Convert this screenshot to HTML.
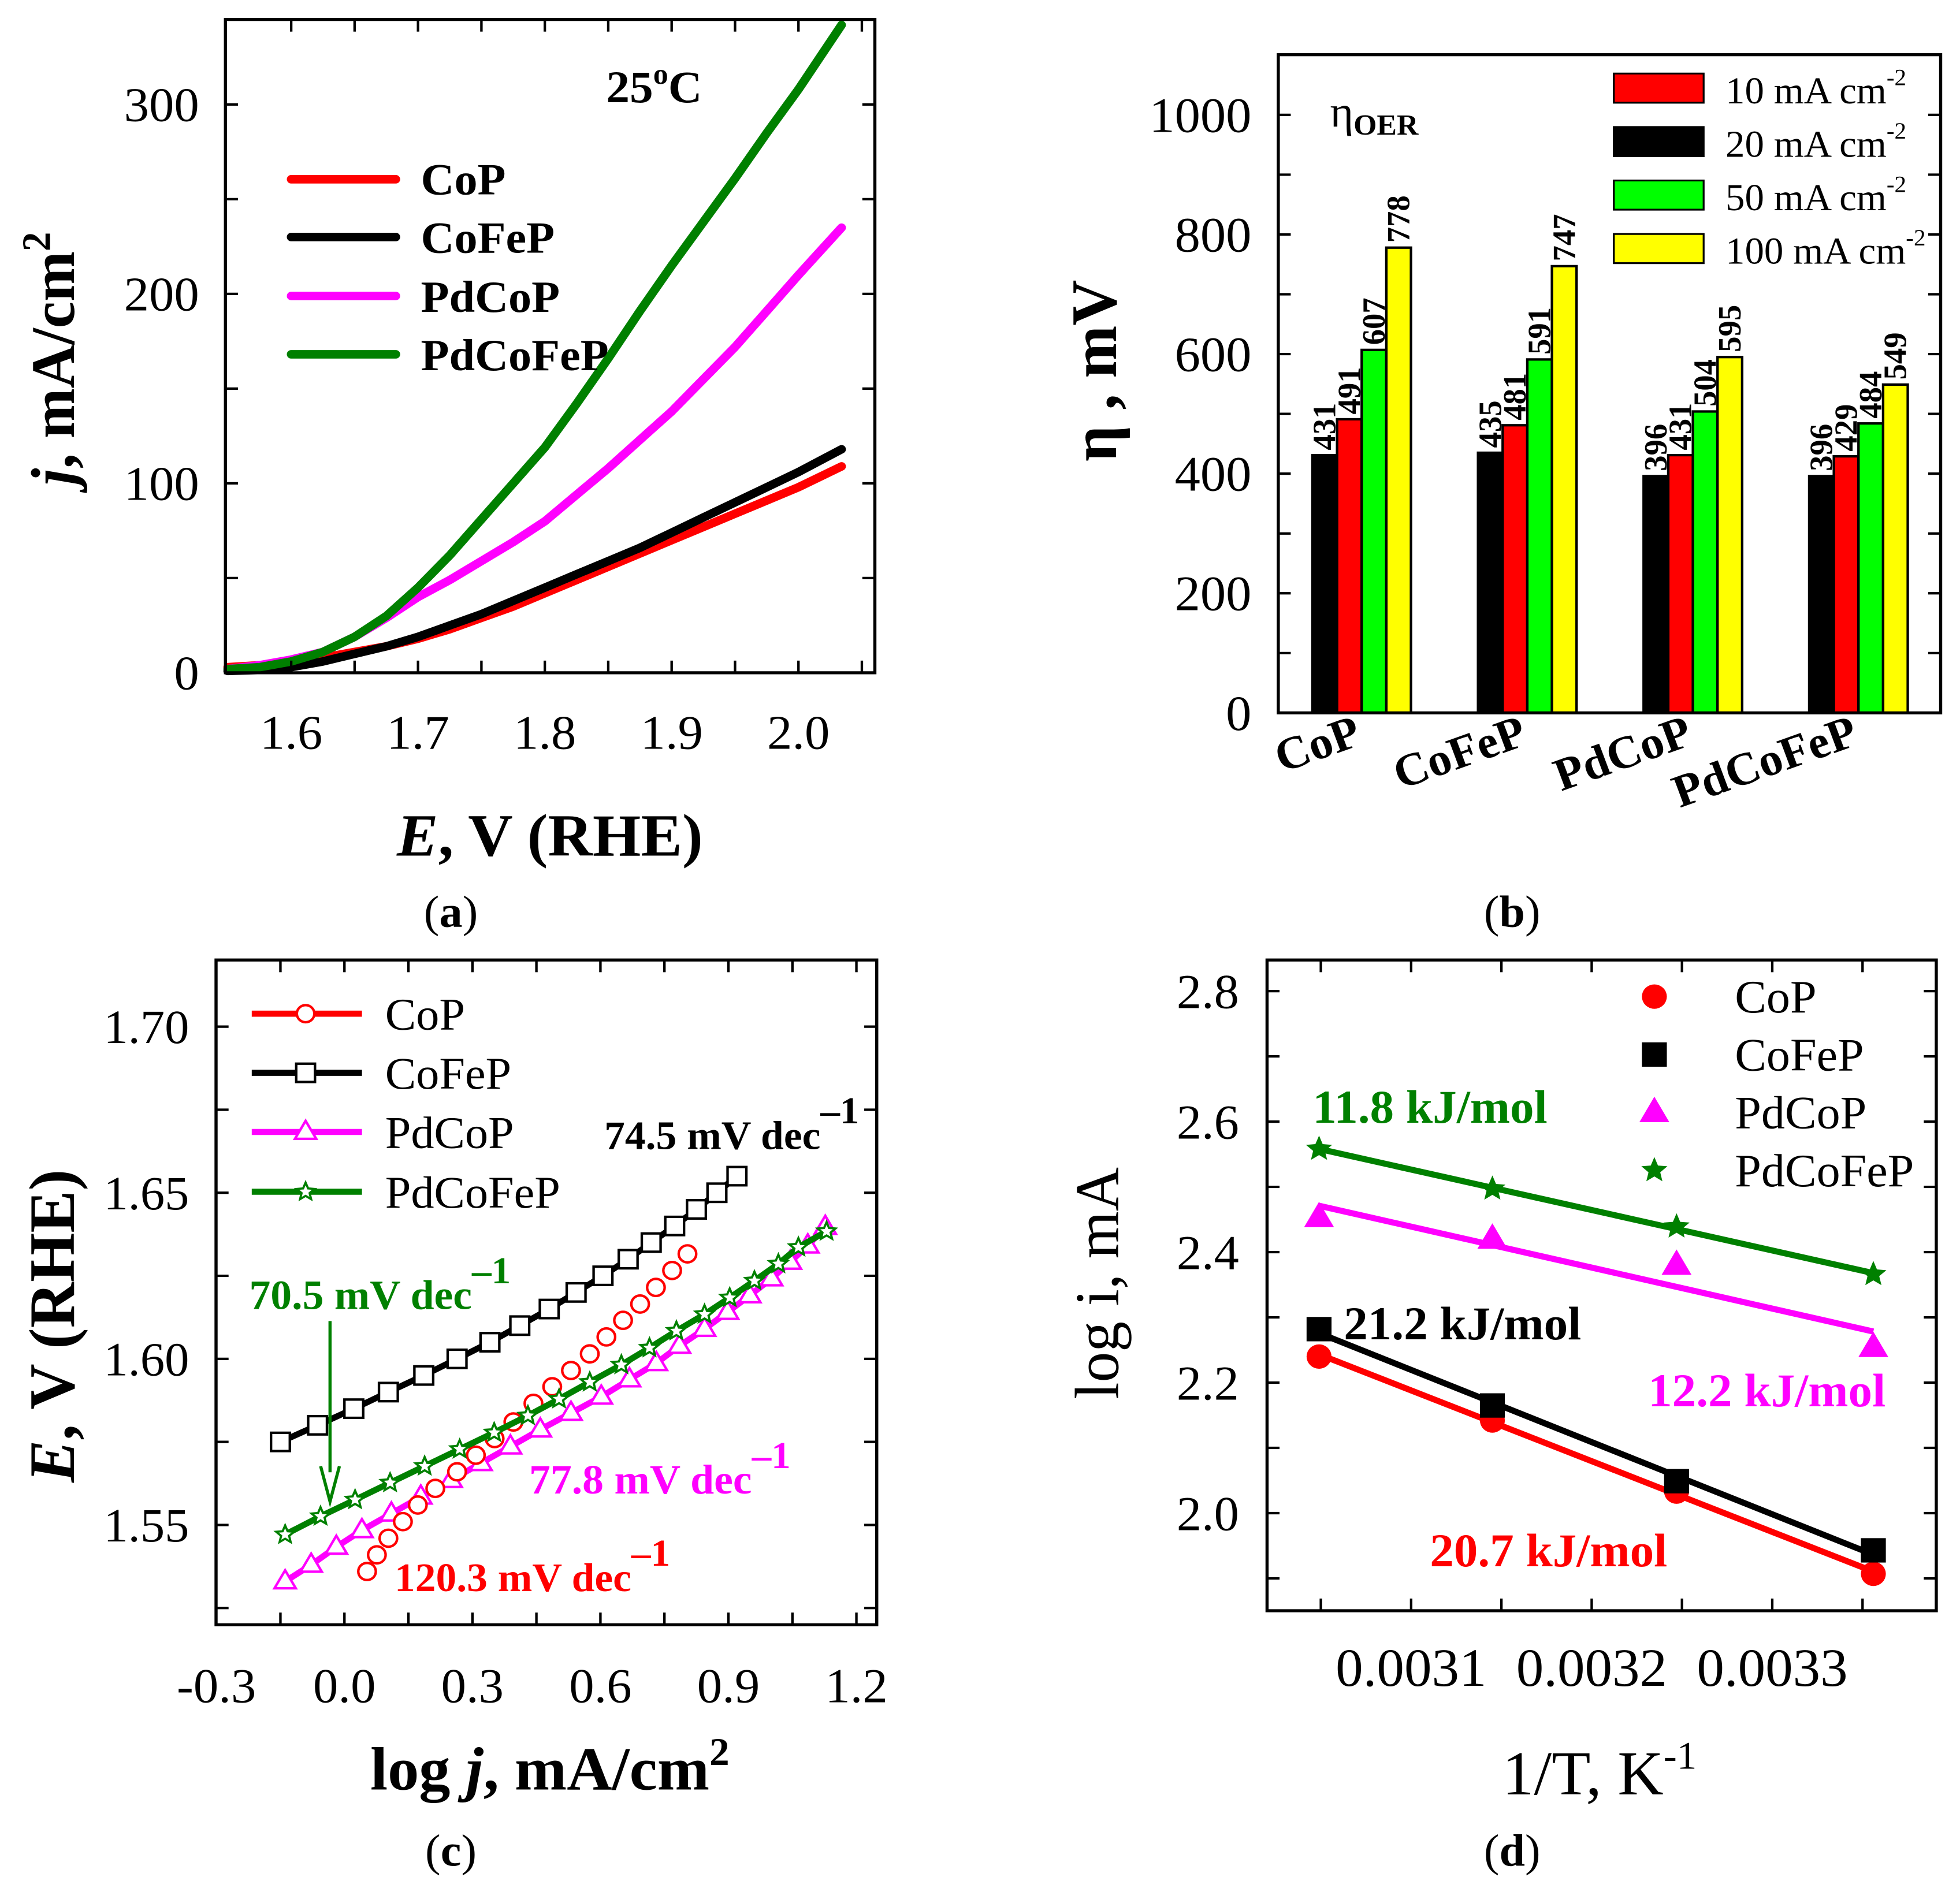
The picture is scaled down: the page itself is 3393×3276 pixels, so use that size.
<!DOCTYPE html>
<html>
<head>
<meta charset="utf-8">
<style>
html,body{margin:0;padding:0;background:#fff;}
svg{display:block;}
svg, svg text{font-family:"Liberation Serif","Times New Roman",serif;}
.b{font-weight:bold;}
</style>
</head>
<body>
<svg id="fig" xmlns="http://www.w3.org/2000/svg" width="3393" height="3276" viewBox="0 0 3393 3276" font-family="Liberation Serif, serif">
<rect x="0" y="0" width="3393" height="3276" fill="#fff"/>

<!-- Panel a -->
<g id="pa" transform="translate(0,0) scale(1.0841,1.0523)">
  <g id="pa-marks"></g>
  <g id="pa-axes"></g>
  <text x="968" y="168" font-size="75" class="b">25<tspan font-size="48" dy="-30">o</tspan><tspan dy="30">C</tspan></text>
  <g>
    <line x1="465" y1="295" x2="632" y2="295" stroke="#ff0000" stroke-width="14" stroke-linecap="round"/>
    <text x="672" y="320" font-size="74" class="b">CoP</text>
    <line x1="465" y1="390" x2="632" y2="390" stroke="#000" stroke-width="14" stroke-linecap="round"/>
    <text x="672" y="416" font-size="74" class="b">CoFeP</text>
    <line x1="465" y1="487" x2="632" y2="487" stroke="#ff00ff" stroke-width="14" stroke-linecap="round"/>
    <text x="672" y="513" font-size="74" class="b">PdCoP</text>
    <line x1="465" y1="583" x2="632" y2="583" stroke="#008000" stroke-width="14" stroke-linecap="round"/>
    <text x="672" y="609" font-size="74" class="b">PdCoFeP</text>
  </g>
  <text x="878" y="1408" font-size="99" class="b" text-anchor="middle"><tspan font-style="italic">E</tspan>, V (RHE)</text>
  <text transform="translate(118,590) rotate(-90)" font-size="99" class="b" text-anchor="middle"><tspan font-style="italic">j</tspan>, mA/cm<tspan font-size="64" dy="-38">2</tspan></text>
  <text x="720" y="1525" font-size="74" text-anchor="middle">(<tspan class="b">a</tspan>)</text>
</g>

<!-- Panel b -->
<g id="pb" transform="translate(1700,0) scale(1.0797,1.0523)">
  <g id="pb-marks"></g>
  <g id="pb-axes"></g>
  <text x="558" y="208" font-size="72">η<tspan font-size="48" class="b" dy="14">OER</tspan></text>
  <g>
    <rect x="1013" y="121" width="144" height="48" fill="#ff0000" stroke="#000" stroke-width="3"/>
    <text x="1192" y="170" font-size="62">10 mA cm<tspan font-size="38" dy="-30">-2</tspan></text>
    <rect x="1013" y="209" width="144" height="48" fill="#000" stroke="#000" stroke-width="3"/>
    <text x="1192" y="258" font-size="62">20 mA cm<tspan font-size="38" dy="-30">-2</tspan></text>
    <rect x="1013" y="297" width="144" height="48" fill="#00ff00" stroke="#000" stroke-width="3"/>
    <text x="1192" y="346" font-size="62">50 mA cm<tspan font-size="38" dy="-30">-2</tspan></text>
    <rect x="1013" y="385" width="144" height="48" fill="#ffff00" stroke="#000" stroke-width="3"/>
    <text x="1192" y="434" font-size="62">100 mA cm<tspan font-size="38" dy="-30">-2</tspan></text>
  </g>
  <text transform="translate(215,610) rotate(-90)" font-size="104" class="b" text-anchor="middle">η , mV</text>
  <text x="850" y="1525" font-size="74" text-anchor="middle">(<tspan class="b">b</tspan>)</text>
</g>

<!-- Panel c -->
<g id="pc" transform="translate(0,1620) scale(1.0841,1.0560)">
  <g id="pc-marks"></g>
  <g id="pc-axes"></g>
  <g id="pc-legend">
    <text x="615" y="154" font-size="74">CoP</text>
    <text x="615" y="251" font-size="74">CoFeP</text>
    <text x="615" y="348" font-size="74">PdCoP</text>
    <text x="615" y="446" font-size="74">PdCoFeP</text>
  </g>
  <text x="965" y="350" font-size="66" class="b" fill="#000">74.5 mV dec<tspan font-size="62" dy="-42">–1</tspan></text>
  <text x="398" y="612" font-size="68" class="b" fill="#008000">70.5 mV dec<tspan font-size="62" dy="-42">–1</tspan></text>
  <line x1="527" y1="632" x2="527" y2="880" stroke="#008000" stroke-width="5"/>
  <polyline points="512,870 527,928 542,870" fill="none" stroke="#008000" stroke-width="5"/>
  <text x="845" y="915" font-size="68" class="b" fill="#ff00ff">77.8 mV dec<tspan font-size="62" dy="-42">–1</tspan></text>
  <text x="630" y="1075" font-size="66" class="b" fill="#ff0000">120.3 mV dec<tspan font-size="62" dy="-42">–1</tspan></text>
  <text x="878" y="1400" font-size="100" class="b" text-anchor="middle">log <tspan font-style="italic">j</tspan>, mA/cm<tspan font-size="64" dy="-40">2</tspan></text>
  <text transform="translate(118,640) rotate(-90)" font-size="104" class="b" text-anchor="middle"><tspan font-style="italic">E</tspan>, V (RHE)</text>
  <text x="720" y="1525" font-size="74" text-anchor="middle">(<tspan class="b">c</tspan>)</text>
</g>

<!-- Panel d -->
<g id="pd" transform="translate(1700,1620) scale(1.0797,1.0560)">
  <g id="pd-marks"></g>
  <g id="pd-axes"></g>
  <g id="pd-legend">
    <text x="1207" y="126" font-size="76">CoP</text>
    <text x="1207" y="221" font-size="76">CoFeP</text>
    <text x="1207" y="316" font-size="76">PdCoP</text>
    <text x="1207" y="411" font-size="76">PdCoFeP</text>
  </g>
  <text x="530" y="307" font-size="77" class="b" fill="#008000">11.8 kJ/mol</text>
  <text x="580" y="662" font-size="77" class="b" fill="#000">21.2 kJ/mol</text>
  <text x="1068" y="772" font-size="77" class="b" fill="#ff00ff">12.2 kJ/mol</text>
  <text x="718" y="1034" font-size="77" class="b" fill="#ff0000">20.7 kJ/mol</text>
  <text x="990" y="1408" font-size="102" text-anchor="middle">1/T, K<tspan font-size="64" dy="-42">-1</tspan></text>
  <text transform="translate(218,570) rotate(-90)" font-size="100" text-anchor="middle">log i, mA</text>
  <text x="850" y="1525" font-size="74" text-anchor="middle">(<tspan class="b">d</tspan>)</text>
</g>
</svg>

<script>
// ---------- Panel a data ----------
const aPotential = [1.55,1.575,1.6,1.625,1.65,1.675,1.7,1.725,1.75,1.775,1.8,1.825,1.85,1.875,1.9,1.925,1.95,1.975,2.0,2.034];
const aCoP      = [2,3,5,7,10,13,17,22,28,34,41,48,55,62,69,76,83,90,97,108];
const aCoFeP    = [0,0.5,2,5,9,13,18,24,30,37,44,51,58,65,73,81,89,97,105,117];
const aPdCoP    = [1,3,6,10,18,28,39,48,58,68,79,93,107,122,137,154,171,190,209,234];
const aPdCoFeP  = [1,2,5,10,18,29,44,61,80,99,118,141,165,190,214,237,260,284,307,341];
const aXTicks = ['1.6','1.7','1.8','1.9','2.0'];
const aYTicks = ['0','100','200','300'];

// ---------- Panel b data ----------
const bGroups = ['CoP','CoFeP','PdCoP','PdCoFeP'];
const b20  = [431,435,396,396];
const b10  = [491,481,431,429];
const b50  = [607,591,504,484];
const b100 = [778,747,595,549];
const bYTicks = ['0','200','400','600','800','1000'];

// ---------- Panel c data ----------
const cCoPx = [0.053,0.076,0.103,0.137,0.172,0.213,0.264,0.308,0.352,0.396,0.443,0.487,0.531,0.575,0.614,0.653,0.693,0.73,0.768,0.804];
const cCoPy = [1.536,1.541,1.546,1.551,1.556,1.561,1.566,1.571,1.576,1.581,1.5866,1.5916,1.5965,1.6015,1.6066,1.6116,1.6165,1.6215,1.6266,1.6316];
const cCoFePx = [-0.15,-0.063,0.022,0.103,0.186,0.264,0.341,0.411,0.48,0.543,0.606,0.665,0.719,0.774,0.825,0.873,0.92];
const cCoFePy = [1.575,1.58,1.585,1.59,1.595,1.6,1.605,1.61,1.615,1.62,1.625,1.63,1.635,1.64,1.645,1.65,1.655];
const cPdCoPx = [-0.139,-0.078,-0.019,0.041,0.11,0.179,0.25,0.32,0.389,0.459,0.531,0.602,0.668,0.731,0.785,0.844,0.898,0.95,1.001,1.045,1.086,1.127];
const cPdCoPy = [1.533,1.538,1.5434,1.5484,1.5534,1.5585,1.5635,1.5686,1.5736,1.5787,1.5837,1.5886,1.5938,1.5987,1.6039,1.609,1.6141,1.6191,1.6242,1.6292,1.6341,1.6397];
const cPdCoFePx = [-0.139,-0.056,0.025,0.107,0.188,0.27,0.351,0.43,0.503,0.575,0.649,0.715,0.778,0.844,0.903,0.961,1.017,1.064,1.13];
const cPdCoFePy = [1.5471,1.5526,1.5576,1.5627,1.5677,1.5728,1.5778,1.5829,1.5879,1.593,1.5982,1.6033,1.6084,1.6134,1.6184,1.6235,1.6286,1.6336,1.6384];
const cXTicks = ['-0.3','0.0','0.3','0.6','0.9','1.2'];
const cYTicks = ['1.55','1.60','1.65','1.70'];

// ---------- Panel d data ----------
const dInvT = [0.003049,0.003145,0.003247,0.003356];
const dCoP = [2.240,2.142,2.033,1.907];
const dCoFeP = [2.282,2.165,2.049,1.943];
const dPdCoP = [2.453,2.42,2.38,2.254];
const dPdCoFeP = [2.558,2.497,2.439,2.366];
const dXTicks = ['0.0031','0.0032','0.0033'];
const dYTicks = ['2.0','2.2','2.4','2.6','2.8'];

const NS = 'http://www.w3.org/2000/svg';
function mk(tag, attrs, parent){
  const e = document.createElementNS(NS, tag);
  for (const k in attrs) e.setAttribute(k, attrs[k]);
  parent.appendChild(e);
  return e;
}
function starPts(cx, cy, r){
  const p = [];
  for (let i=0;i<10;i++){
    const rr = i%2===0 ? r : r*0.45;
    const a = -Math.PI/2 + i*Math.PI/5;
    p.push((cx+rr*Math.cos(a)).toFixed(1)+','+(cy+rr*Math.sin(a)).toFixed(1));
  }
  return p.join(' ');
}
function triPts(cx, cy, s){
  const h = s*0.87;
  return (cx)+','+(cy-h*0.62)+' '+(cx-s/2)+','+(cy+h*0.38)+' '+(cx+s/2)+','+(cy+h*0.38);
}
function drawBox(g, L, R, T, B){
  const r = mk('rect', {x:L, y:T, width:R-L, height:B-T, fill:'none', stroke:'#000', 'stroke-width':5}, g);
  
  
}
function tickX(g, px, T, B, len){
  const t1 = mk('line', {x1:px, y1:B, x2:px, y2:B-len, stroke:'#000', 'stroke-width':4}, g);
  
  
  const t2 = mk('line', {x1:px, y1:T, x2:px, y2:T+len, stroke:'#000', 'stroke-width':4}, g);
  
  
}
function tickY(g, py, L, R, len){
  const t1 = mk('line', {x1:L, y1:py, x2:L+len, y2:py, stroke:'#000', 'stroke-width':4}, g);
  
  
  const t2 = mk('line', {x1:R, y1:py, x2:R-len, y2:py, stroke:'#000', 'stroke-width':4}, g);
  
  
}
function label(g, x, y, txt, size, anchor, name){
  const t = mk('text', {x:x, y:y, 'font-size':size, 'text-anchor':anchor}, g);
  t.textContent = txt;
  
  
  return t;
}
function polyline(g, xs, ys, fx, fy, color, w, name){
  const pts = xs.map((v,i)=>fx(v).toFixed(1)+','+fy(ys[i]).toFixed(1)).join(' ');
  const p = mk('polyline', {points:pts, fill:'none', stroke:color, 'stroke-width':w, 'stroke-linejoin':'round', 'stroke-linecap':'round'}, g);
  
  
}

// ===== Panel a =====
(function(){
  const g = document.getElementById('pa-marks');
  const ax = document.getElementById('pa-axes');
  const L=360,R=1397,T=32,B=1107;
  const fx = v => 465 + (v-1.6)*2025;
  const fy = v => 1104 - v*3.117;
  polyline(g, aPotential, aCoP, fx, fy, '#ff0000', 14, 'curve-cop');
  polyline(g, aPotential, aCoFeP, fx, fy, '#000', 14, 'curve-cofep');
  polyline(g, aPotential, aPdCoP, fx, fy, '#ff00ff', 14, 'curve-pdcop');
  polyline(g, aPotential, aPdCoFeP, fx, fy, '#008000', 14, 'curve-pdcofep');
  drawBox(ax, L, R, T, B);
  for (let v=1.55; v<=2.0501; v+=0.05){ const px=fx(v); if(px>L+5 && px<R-5) tickX(ax, px, T, B, 20); }
  for (let v=50; v<=350; v+=50){ const py=1107-v*3.117; if(py>T+5) tickY(ax, py, L, R, 20); }
  aXTicks.forEach(s=>label(ax, fx(parseFloat(s)), 1232, s, 80, 'middle', 'x-tick-label-a'));
  aYTicks.forEach(s=>label(ax, 318, 1107-parseFloat(s)*3.117+27, s, 80, 'end', 'y-tick-label-a'));
})();

// ===== Panel b =====
(function(){
  const g = document.getElementById('pb-marks');
  const ax = document.getElementById('pb-axes');
  const L=475,R=1537,T=90,B=1173;
  const fy = v => B - v*0.984;
  const gw = (R-L)/bGroups.length;
  const series = [[b20,'#000000'],[b10,'#ff0000'],[b50,'#00ff00'],[b100,'#ffff00']];
  const bw = 39.5;
  bGroups.forEach((name,i)=>{
    const c = L + (i+0.5)*gw;
    series.forEach((s,j)=>{
      const v = s[0][i];
      const x0 = c - 78 + j*bw;
      const r = mk('rect', {x:x0, y:fy(v), width:bw, height:B-fy(v), fill:s[1], stroke:'#000', 'stroke-width':4}, g);
      
      
      const t = mk('text', {transform:'translate('+(x0+bw/2+17)+','+(fy(v)-8)+') rotate(-90)', 'font-size':52, 'font-weight':'bold'}, g);
      t.textContent = String(v);
      
      
    });
    const gl = mk('text', {transform:'translate('+(c+4)+',1224) rotate(-20)', 'font-size':76, 'font-weight':'bold', 'text-anchor':'end'}, ax);
    gl.textContent = name;
    
    
  });
  drawBox(ax, L, R, T, B);
  for (let v=100; v<=1000; v+=100) tickY(ax, fy(v), L, R, 20);
  bYTicks.forEach(s=>label(ax, 432, fy(parseFloat(s))+28, s, 82, 'end', 'y-tick-label-b'));
})();

// ===== Panel c =====
(function(){
  const g = document.getElementById('pc-marks');
  const ax = document.getElementById('pc-axes');
  const lg = document.getElementById('pc-legend');
  const L=345,R=1400,T=40,B=1130;
  const fx = v => 550 + v*681.3;
  const fy = v => 694 - (v-1.6)*5447;
  function circ(p, x, y){ const c=mk('circle',{cx:x,cy:y,r:14,fill:'#fff',stroke:'#ff0000','stroke-width':4},p);   }
  function sq(p, x, y){ const c=mk('rect',{x:x-15,y:y-15,width:30,height:30,fill:'#fff',stroke:'#000','stroke-width':4},p);   }
  function tri(p, x, y){ const c=mk('polygon',{points:triPts(x,y,34),fill:'#fff',stroke:'#ff00ff','stroke-width':4},p);   }
  function st(p, x, y){ const c=mk('polygon',{points:starPts(x,y,15),fill:'#fff',stroke:'#008000','stroke-width':3.5},p);   }
  polyline(g, cCoFePx, cCoFePy, fx, fy, '#000', 10, 'line-cofep');
  cCoFePx.forEach((v,i)=>sq(g, fx(v), fy(cCoFePy[i])));
  polyline(g, cPdCoPx, cPdCoPy, fx, fy, '#ff00ff', 10, 'line-pdcop');
  cPdCoPx.forEach((v,i)=>tri(g, fx(v), fy(cPdCoPy[i])));
  cCoPx.forEach((v,i)=>circ(g, fx(v), fy(cCoPy[i])));
  polyline(g, cPdCoFePx, cPdCoFePy, fx, fy, '#008000', 10, 'line-pdcofep');
  cPdCoFePx.forEach((v,i)=>st(g, fx(v), fy(cPdCoFePy[i])));
  const lcols = ['#ff0000','#000','#ff00ff','#008000'];
  const lys = [128,225,322,420];
  lys.forEach((y,i)=>{
    const l = mk('line',{x1:402,y1:y,x2:578,y2:y,stroke:lcols[i],'stroke-width':10},lg);
    
    
  });
  circ(lg, 488, 128); sq(lg, 488, 225); tri(lg, 488, 322); st(lg, 488, 420);
  drawBox(ax, L, R, T, B);
  for (let v=-0.15; v<=1.20; v+=0.15){ const px=fx(v); if(px>L+5 && px<R-5) tickX(ax, px, T, B, 20); }
  for (let v=1.525; v<=1.7001; v+=0.025) tickY(ax, fy(v), L, R, 20);
  cXTicks.forEach(s=>label(ax, fx(parseFloat(s)), 1257, s, 80, 'middle', 'x-tick-label-c'));
  cYTicks.forEach(s=>label(ax, 302, fy(parseFloat(s))+27, s, 78, 'end', 'y-tick-label-c'));
})();

// ===== Panel d =====
(function(){
  const g = document.getElementById('pd-marks');
  const ax = document.getElementById('pd-axes');
  const lg = document.getElementById('pd-legend');
  const L=457,R=1530,T=40,B=1107;
  const fx = v => 688 + (v-0.0031)*2.895e6;
  const fy = v => 947 - (v-2.0)*1070;
  function fit(ys){
    const n=dInvT.length; let sx=0,sy=0,sxx=0,sxy=0;
    for(let i=0;i<n;i++){sx+=dInvT[i];sy+=ys[i];sxx+=dInvT[i]*dInvT[i];sxy+=dInvT[i]*ys[i];}
    const m=(n*sxy-sx*sy)/(n*sxx-sx*sx); const b=(sy-m*sx)/n; return [m,b];
  }
  function fitLine(ys, color, name){
    const f = fit(ys);
    const x0 = dInvT[0], x1 = dInvT[dInvT.length-1];
    const l = mk('line',{x1:fx(x0),y1:fy(f[0]*x0+f[1]),x2:fx(x1),y2:fy(f[0]*x1+f[1]),stroke:color,'stroke-width':10},g);
    
    
  }
  function circ(p,x,y){ const c=mk('circle',{cx:x,cy:y,r:20,fill:'#ff0000'},p);   }
  function sq(p,x,y){ const c=mk('rect',{x:x-20,y:y-20,width:40,height:40,fill:'#000'},p);   }
  function tri(p,x,y){ const c=mk('polygon',{points:triPts(x,y,48),fill:'#ff00ff'},p);   }
  function st(p,x,y){ const c=mk('polygon',{points:starPts(x,y,22),fill:'#008000'},p);   }
  fitLine(dCoP, '#ff0000', 'fit-cop');
  fitLine(dCoFeP, '#000', 'fit-cofep');
  fitLine(dPdCoP, '#ff00ff', 'fit-pdcop');
  fitLine(dPdCoFeP, '#008000', 'fit-pdcofep');
  dInvT.forEach((v,i)=>{
    circ(g, fx(v), fy(dCoP[i]));
    sq(g, fx(v), fy(dCoFeP[i]));
    tri(g, fx(v), fy(dPdCoP[i]));
    st(g, fx(v), fy(dPdCoFeP[i]));
  });
  circ(lg, 1078, 100); sq(lg, 1078, 195); tri(lg, 1078, 290); st(lg, 1078, 385);
  drawBox(ax, L, R, T, B);
  for (let v=0.00305; v<=0.003351; v+=0.00005) tickX(ax, fx(v), T, B, 20);
  for (let v=1.9; v<=2.801; v+=0.1) tickY(ax, fy(v), L, R, 20);
  dXTicks.forEach(s=>label(ax, fx(parseFloat(s)), 1230, s, 88, 'middle', 'x-tick-label-d'));
  dYTicks.forEach(s=>label(ax, 412, fy(parseFloat(s))+28, s, 80, 'end', 'y-tick-label-d'));
})();
</script>
</body>
</html>
